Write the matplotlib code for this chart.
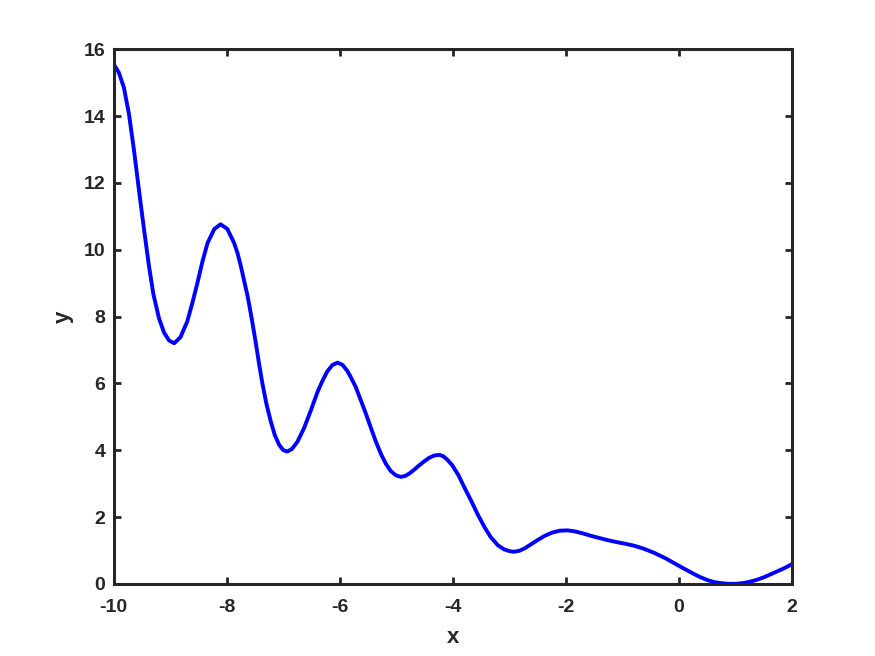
import matplotlib
matplotlib.use("Agg")
import matplotlib.pyplot as plt

# curve points (x, y)
x_vals = [-10.0, -9.91, -9.82, -9.73, -9.64, -9.55, -9.46, -9.38, -9.30, -9.20, -9.11,
          -9.02, -8.93, -8.82, -8.70, -8.61, -8.52, -8.43, -8.34, -8.22, -8.11, -7.99,
          -7.87, -7.81, -7.75, -7.69, -7.63, -7.56, -7.49, -7.43, -7.37, -7.30, -7.22,
          -7.15, -7.07, -7.00, -6.93, -6.85, -6.75, -6.63, -6.51, -6.39, -6.30, -6.22,
          -6.13, -6.04, -5.95, -5.87, -5.81, -5.72, -5.63, -5.54, -5.45, -5.36, -5.27,
          -5.18, -5.10, -5.01, -4.92, -4.84, -4.77, -4.68, -4.60, -4.51, -4.42, -4.33,
          -4.24, -4.17, -4.10, -4.01, -3.90, -3.80, -3.68, -3.56, -3.44, -3.33, -3.20,
          -3.09, -3.00, -2.92, -2.82, -2.72, -2.61, -2.50, -2.38, -2.25, -2.11, -1.97,
          -1.84, -1.70, -1.54, -1.38, -1.24, -1.10, -0.95, -0.79, -0.62, -0.44, -0.22,
          0.00, 0.13, 0.25, 0.38, 0.51, 0.63, 0.75, 0.88, 1.01, 1.13, 1.25, 1.38,
          1.51, 1.63, 1.75, 1.88, 2.00]
y_vals = [15.55, 15.30, 14.85, 14.05, 12.95, 11.73, 10.55, 9.55, 8.68, 7.95, 7.52,
          7.28, 7.20, 7.38, 7.85, 8.40, 9.00, 9.65, 10.20, 10.62, 10.76, 10.62,
          10.20, 9.90, 9.50, 9.05, 8.60, 7.95, 7.25, 6.60, 6.00, 5.40, 4.85,
          4.45, 4.15, 4.00, 3.96, 4.03, 4.25, 4.67, 5.20, 5.76, 6.10, 6.36,
          6.55, 6.62, 6.55, 6.38, 6.20, 5.90, 5.50, 5.10, 4.67, 4.25, 3.88,
          3.58, 3.38, 3.25, 3.20, 3.23, 3.30, 3.42, 3.54, 3.66, 3.77, 3.84,
          3.86, 3.82, 3.72, 3.55, 3.25, 2.90, 2.50, 2.08, 1.70, 1.40, 1.15,
          1.03, 0.98, 0.96, 0.99, 1.07, 1.19, 1.31, 1.43, 1.53, 1.59, 1.60,
          1.57, 1.51, 1.43, 1.36, 1.30, 1.25, 1.20, 1.14, 1.05, 0.93, 0.75,
          0.54, 0.42, 0.31, 0.20, 0.11, 0.05, 0.02, 0.00, 0.00, 0.02, 0.06, 0.12,
          0.20, 0.29, 0.38, 0.48, 0.59]
x_ticks = [-10, -8, -6, -4, -2, 0, 2]
y_ticks = [0, 2, 4, 6, 8, 10, 12, 14, 16]

plt.rcParams['font.family'] = ['Liberation Sans', 'DejaVu Sans']
plt.rcParams['axes.unicode_minus'] = False
dark = '#262626'

fig = plt.figure(figsize=(8.75, 6.56), dpi=100)
ax = fig.add_axes([0.13, 0.11, 0.775, 0.815])
ax.plot(x_vals, y_vals, color='#0000ff', linewidth=2.8,
        solid_joinstyle='round', solid_capstyle='butt')

ax.set_xlim(-10, 2)
ax.set_ylim(0, 16)
ax.set_xticks(x_ticks)
ax.set_yticks(y_ticks)
ax.tick_params(direction='in', length=5, width=2, colors=dark, labelsize=14,
               top=True, right=True)
ax.tick_params(axis='x', pad=11)
ax.tick_params(axis='y', pad=6)
for lbl in ax.get_xticklabels() + ax.get_yticklabels():
    lbl.set_fontweight('bold')
for sp in ax.spines.values():
    sp.set_linewidth(2.2)
    sp.set_color(dark)
ax.set_xlabel('x', fontsize=16, fontweight='bold', color=dark, labelpad=8)
ax.set_ylabel('y', fontsize=16, fontweight='bold', color=dark, labelpad=7)

fig.savefig('out.png', dpi=100)
